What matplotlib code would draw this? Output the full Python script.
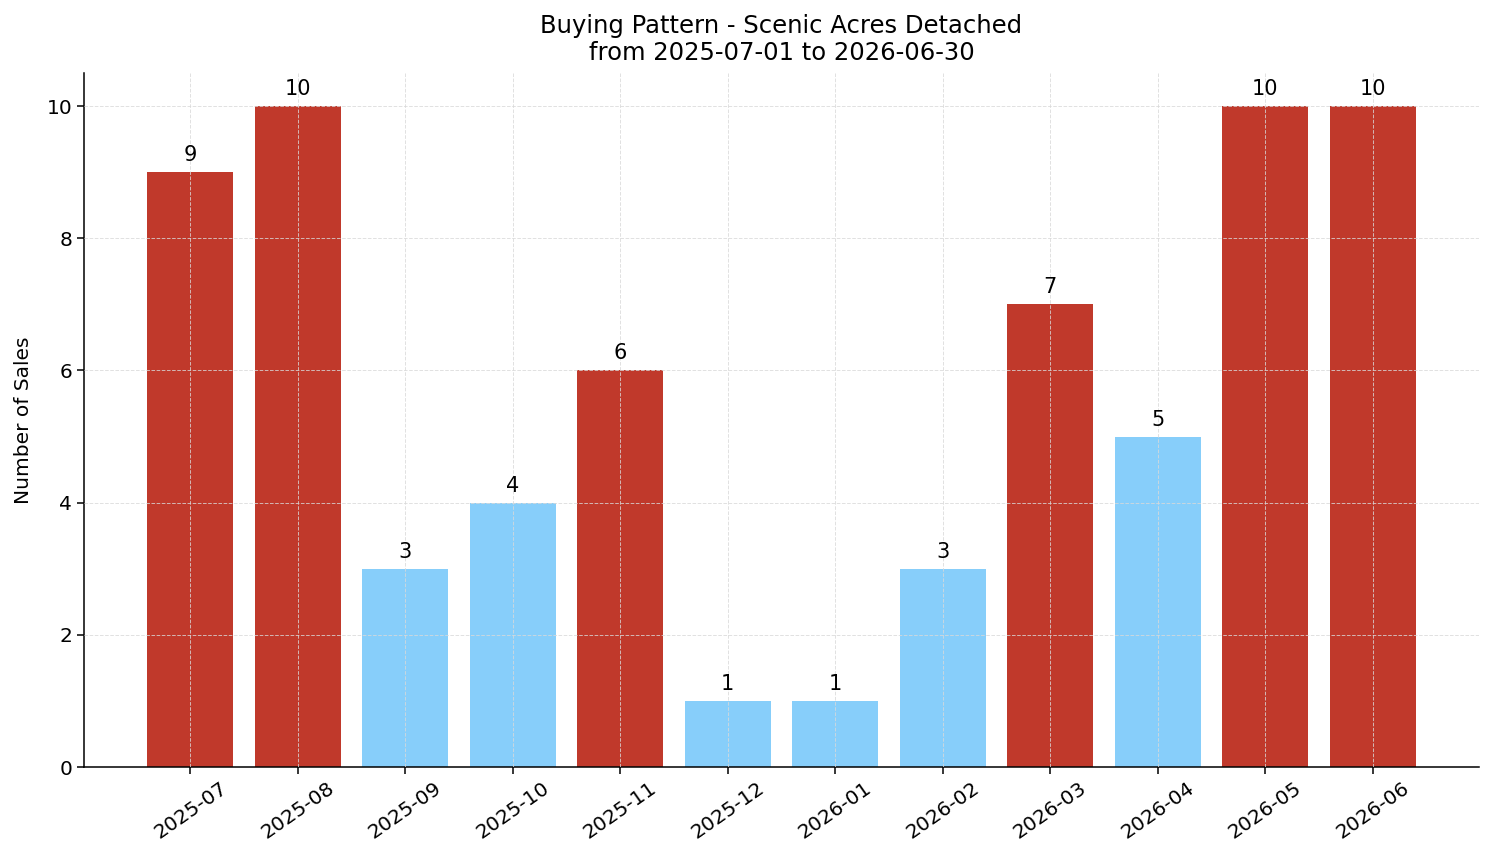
import matplotlib.pyplot as plt

months = ['2025-07', '2025-08', '2025-09', '2025-10', '2025-11', '2025-12',
          '2026-01', '2026-02', '2026-03', '2026-04', '2026-05', '2026-06']
sales = [9, 10, 3, 4, 6, 1, 1, 3, 7, 5, 10, 10]

red = '#c0392b'
blue = '#87cefa'
colors = [red if v >= 6 else blue for v in sales]

dpi = 100
fig = plt.figure(dpi=dpi, figsize=(1494 / dpi, 863 / dpi))
ax = fig.add_axes([84 / 1494, 1 - 767 / 863, (1479 - 84) / 1494, (767 - 73) / 863])

bars = ax.bar(months, sales, color=colors, width=0.8, zorder=1)
for b, v in zip(bars, sales):
    ax.annotate(str(v), (b.get_x() + b.get_width() / 2, v),
                xytext=(0, 5), textcoords='offset points',
                ha='center', va='bottom', fontsize=15)

ax.set_ylim(0, 10.5)
# grid sits on top of the bars in the original
ax.set_axisbelow(False)
ax.grid(True, linestyle='--', color='#d9d9d9', linewidth=0.7, alpha=0.8)
ax.spines['top'].set_visible(False)
ax.spines['right'].set_visible(False)
for s in ['left', 'bottom']:
    ax.spines[s].set_linewidth(1.1)
ax.set_ylabel('Number of Sales', fontsize=14.5, labelpad=10)
ax.tick_params(axis='both', labelsize=14.5, width=1.1, length=5)
plt.setp(ax.get_xticklabels(), rotation=35)
ax.set_title('Buying Pattern - Scenic Acres Detached\nfrom 2025-07-01 to 2026-06-30',
             fontsize=17.5, pad=9)

fig.savefig('out.png', dpi=dpi)
